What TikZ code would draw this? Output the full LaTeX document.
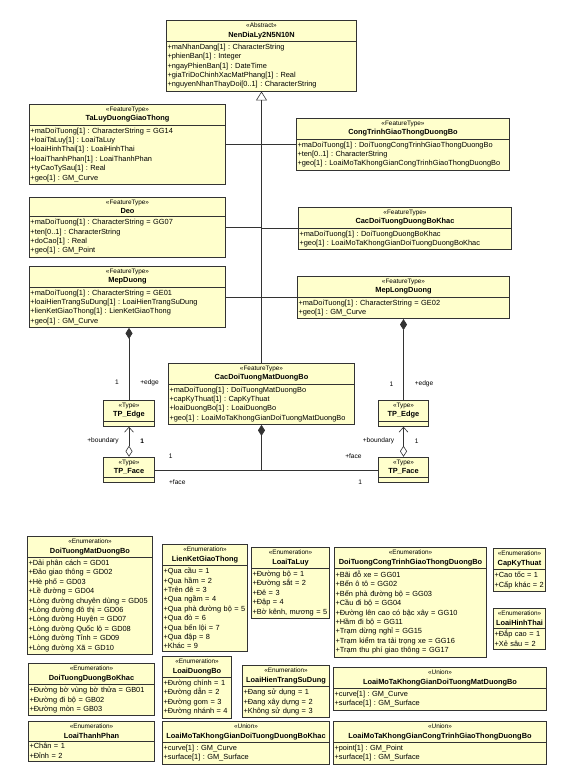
\documentclass[tikz,border=0pt]{standalone}
\usepackage{fontspec}
\setmainfont{Liberation Sans}
\usepackage{tikz}
\usetikzlibrary{shapes.multipart, arrows.meta, positioning}
\definecolor{umlfill}{HTML}{FFFFCC}
\definecolor{umlline}{HTML}{333333}
\newcommand{\umlhd}[2]{{\centering{\fontsize{6.4}{10}\selectfont «#1»}\\\textbf{#2}\par}}
\frenchspacing

\begin{document}
\begin{tikzpicture}[x=1pt, y=-1pt,
        cls/.style={rectangle split, rectangle split parts=2, draw=umlline, fill=umlfill, line width=0.6pt, anchor=north west, align=left, inner xsep=1.2pt, inner ysep=2.4pt, font=\fontsize{7.4}{9.4}\selectfont, rectangle split empty part height=5pt},
        lbl/.style={font=\fontsize{6.6}{8}\selectfont, inner sep=1pt},
        link/.style={draw=umlline, line width=0.6pt},
        gen/.style={link, -{Triangle[open, length=9pt, width=11pt]}},
        comp/.style={link, {Diamond[length=11pt, width=7pt]}-},
        agg/.style={link, {Diamond[open, length=11pt, width=7pt]}-{Straight Barb[length=5pt, width=9pt]}}
    ]
    \useasboundingbox[fill=white] (0,0) rectangle (575,774);

    \node[cls, text width=188pt] (nen) at (166,20) {\umlhd{Abstract}{NenDiaLy2N5N10N}\nodepart{two}+maNhanDang[1] : CharacterString\\+phienBan[1] : Integer\\+ngayPhienBan[1] : DateTime\\+giaTriDoChinhXacMatPhang[1] : Real\\+nguyenNhanThayDoi[0..1] : CharacterString};

    \node[cls, text width=194pt] (taluy) at (29,104) {\umlhd{FeatureType}{TaLuyDuongGiaoThong}\nodepart{two}+maDoiTuong[1] : CharacterString = GG14\\+loaiTaLuy[1] : LoaiTaLuy\\+loaiHinhThai[1] : LoaiHinhThai\\+loaiThanhPhan[1] : LoaiThanhPhan\\+tyCaoTySau[1] : Real\\+geo[1] : GM\_Curve};
    \node[cls, text width=211pt] (congtrinh) at (296,118) {\umlhd{FeatureType}{CongTrinhGiaoThongDuongBo}\nodepart{two}+maDoiTuong[1] : DoiTuongCongTrinhGiaoThongDuongBo\\+ten[0..1] : CharacterString\\+geo[1] : LoaiMoTaKhongGianCongTrinhGiaoThongDuongBo};

    \node[cls, text width=194pt] (deo) at (29,197) {\umlhd{FeatureType}{Deo}\nodepart{two}+maDoiTuong[1] : CharacterString = GG07\\+ten[0..1] : CharacterString\\+doCao[1] : Real\\+geo[1] : GM\_Point};
    \node[cls, text width=211pt] (khac) at (298,207) {\umlhd{FeatureType}{CacDoiTuongDuongBoKhac}\nodepart{two}+maDoiTuong[1] : DoiTuongDuongBoKhac\\+geo[1] : LoaiMoTaKhongGianDoiTuongDuongBoKhac};

    \node[cls, text width=194pt] (mepduong) at (29,266) {\umlhd{FeatureType}{MepDuong}\nodepart{two}+maDoiTuong[1] : CharacterString = GE01\\+loaiHienTrangSuDung[1] : LoaiHienTrangSuDung\\+lienKetGiaoThong[1] : LienKetGiaoThong\\+geo[1] : GM\_Curve};
    \node[cls, text width=210pt] (meplong) at (297,276) {\umlhd{FeatureType}{MepLongDuong}\nodepart{two}+maDoiTuong[1] : CharacterString = GE02\\+geo[1] : GM\_Curve};

    \node[cls, text width=184pt] (matduong) at (168,363) {\umlhd{FeatureType}{CacDoiTuongMatDuongBo}\nodepart{two}+maDoiTuong[1] : DoiTuongMatDuongBo\\+capKyThuat[1] : CapKyThuat\\+loaiDuongBo[1] : LoaiDuongBo\\+geo[1] : LoaiMoTaKhongGianDoiTuongMatDuongBo};

    \node[cls, text width=49pt] (edgeL) at (103,400) {\umlhd{Type}{TP\_Edge}\nodepart{two}};
    \node[cls, text width=49pt, below=30pt of edgeL] (faceL) {\umlhd{Type}{TP\_Face}\nodepart{two}};
    \node[cls, text width=48pt] (edgeR) at (378,400) {\umlhd{Type}{TP\_Edge}\nodepart{two}};
    \node[cls, text width=48pt, below=30pt of edgeR] (faceR) {\umlhd{Type}{TP\_Face}\nodepart{two}};

    \draw[gen] (matduong.north) -- (nen.south);
    \draw[link] (taluy.east) -- (taluy.east -| nen.south);
    \draw[link] (congtrinh.west) -- (congtrinh.west -| nen.south);
    \draw[link] (deo.east) -- (deo.east -| nen.south);
    \draw[link] (khac.west) -- (khac.west -| nen.south);
    \draw[link] (mepduong.east) -- (mepduong.east -| nen.south);
    \draw[link] (meplong.west) -- (meplong.west -| nen.south);

    \draw[comp] (edgeL.north |- mepduong.south) -- (edgeL.north) node[lbl, pos=0.76, left=9pt] (mulEdgeL) {1} node[lbl, pos=0.76, right=10pt] (roleEdgeL) {+edge};
    \draw[comp] (edgeR.north |- meplong.south) -- (edgeR.north) node[lbl, pos=0.8, left=9pt] (mulEdgeR) {1} node[lbl, pos=0.8, right=10pt] (roleEdgeR) {+edge};
    \draw[agg] (faceL.north) -- (edgeL.south) node[lbl, pos=0.53, left=9pt] (roleBndL) {+boundary} node[lbl, pos=0.53, right=10pt] (mulBndL) {\textbf{1}};
    \draw[agg] (faceR.north) -- (edgeR.south) node[lbl, pos=0.53, left=8pt] (roleBndR) {+boundary} node[lbl, pos=0.53, right=10pt] (mulBndR) {1};

    \draw[comp] (matduong.south) -- (matduong.south |- faceL.east);
    \draw[link] (faceL.east) -- (faceR.west) node[lbl, pos=0.07, above=10pt] (mulFaceL) {1} node[lbl, pos=0.1, below=9pt] (roleFaceL) {+face} node[lbl, pos=0.89, above=10pt] (roleFaceR) {+face} node[lbl, pos=0.92, below=9pt] (mulFaceR) {1};

    \node[cls, text width=123pt] (enMatDuong) at (27,536) {\umlhd{Enumeration}{DoiTuongMatDuongBo}\nodepart{two}+Dải phân cách = GD01\\+Đảo giao thông = GD02\\+Hè phố = GD03\\+Lề đường = GD04\\+Lòng đường chuyên dùng = GD05\\+Lòng đường đô thị = GD06\\+Lòng đường Huyện = GD07\\+Lòng đường Quốc lộ = GD08\\+Lòng đường Tỉnh = GD09\\+Lòng đường Xã = GD10};
    \node[cls, text width=83pt] (enLienKet) at (162,544) {\umlhd{Enumeration}{LienKetGiaoThong}\nodepart{two}+Qua cầu = 1\\+Qua hầm = 2\\+Trên đê = 3\\+Qua ngầm = 4\\+Qua phà đường bộ = 5\\+Qua đò = 6\\+Qua bến lội = 7\\+Qua đập = 8\\+Khác = 9};
    \node[cls, text width=76pt] (enTaLuy) at (251,547) {\umlhd{Enumeration}{LoaiTaLuy}\nodepart{two}+Đường bộ = 1\\+Đường sắt = 2\\+Đê = 3\\+Đập = 4\\+Bờ kênh, mương = 5};
    \node[cls, text width=150pt] (enCongTrinh) at (334,547) {\umlhd{Enumeration}{DoiTuongCongTrinhGiaoThongDuongBo}\nodepart{two}+Bãi đỗ xe = GG01\\+Bến ô tô = GG02\\+Bến phà đường bộ = GG03\\+Cầu đi bộ = GG04\\+Đường lên cao có bậc xây = GG10\\+Hầm đi bộ = GG11\\+Trạm dừng nghỉ = GG15\\+Trạm kiểm tra tải trọng xe = GG16\\+Trạm thu phí giao thông = GG17};
    \node[cls, text width=50pt] (enCapKyThuat) at (493,548) {\umlhd{Enumeration}{CapKyThuat}\nodepart{two}+Cao tốc = 1\\+Cấp khác = 2};
    \node[cls, text width=50pt] (enHinhThai) at (493,608) {\umlhd{Enumeration}{LoaiHinhThai}\nodepart{two}+Đắp cao = 1\\+Xẻ sâu = 2};

    \node[cls, text width=124pt] (enDuongBoKhac) at (28,663) {\umlhd{Enumeration}{DoiTuongDuongBoKhac}\nodepart{two}+Đường bờ vùng bờ thửa = GB01\\+Đường đi bộ = GB02\\+Đường mòn = GB03};
    \node[cls, text width=67pt] (enLoaiDuongBo) at (162,656) {\umlhd{Enumeration}{LoaiDuongBo}\nodepart{two}+Đường chính = 1\\+Đường dẫn = 2\\+Đường gom = 3\\+Đường nhánh = 4};
    \node[cls, text width=85pt] (enHienTrang) at (242,665) {\umlhd{Enumeration}{LoaiHienTrangSuDung}\nodepart{two}+Đang sử dụng = 1\\+Đang xây dựng = 2\\+Không sử dụng = 3};
    \node[cls, text width=211pt] (unMatDuong) at (333,667) {\umlhd{Union}{LoaiMoTaKhongGianDoiTuongMatDuongBo}\nodepart{two}+curve[1] : GM\_Curve\\+surface[1] : GM\_Surface};

    \node[cls, text width=124pt] (enThanhPhan) at (28,721) {\umlhd{Enumeration}{LoaiThanhPhan}\nodepart{two}+Chân = 1\\+Đỉnh = 2};
    \node[cls, text width=165pt] (unDuongBoKhac) at (162,721) {\umlhd{Union}{LoaiMoTaKhongGianDoiTuongDuongBoKhac}\nodepart{two}+curve[1] : GM\_Curve\\+surface[1] : GM\_Surface};
    \node[cls, text width=211pt] (unCongTrinh) at (333,721) {\umlhd{Union}{LoaiMoTaKhongGianCongTrinhGiaoThongDuongBo}\nodepart{two}+point[1] : GM\_Point\\+surface[1] : GM\_Surface};
\end{tikzpicture}
\end{document}
